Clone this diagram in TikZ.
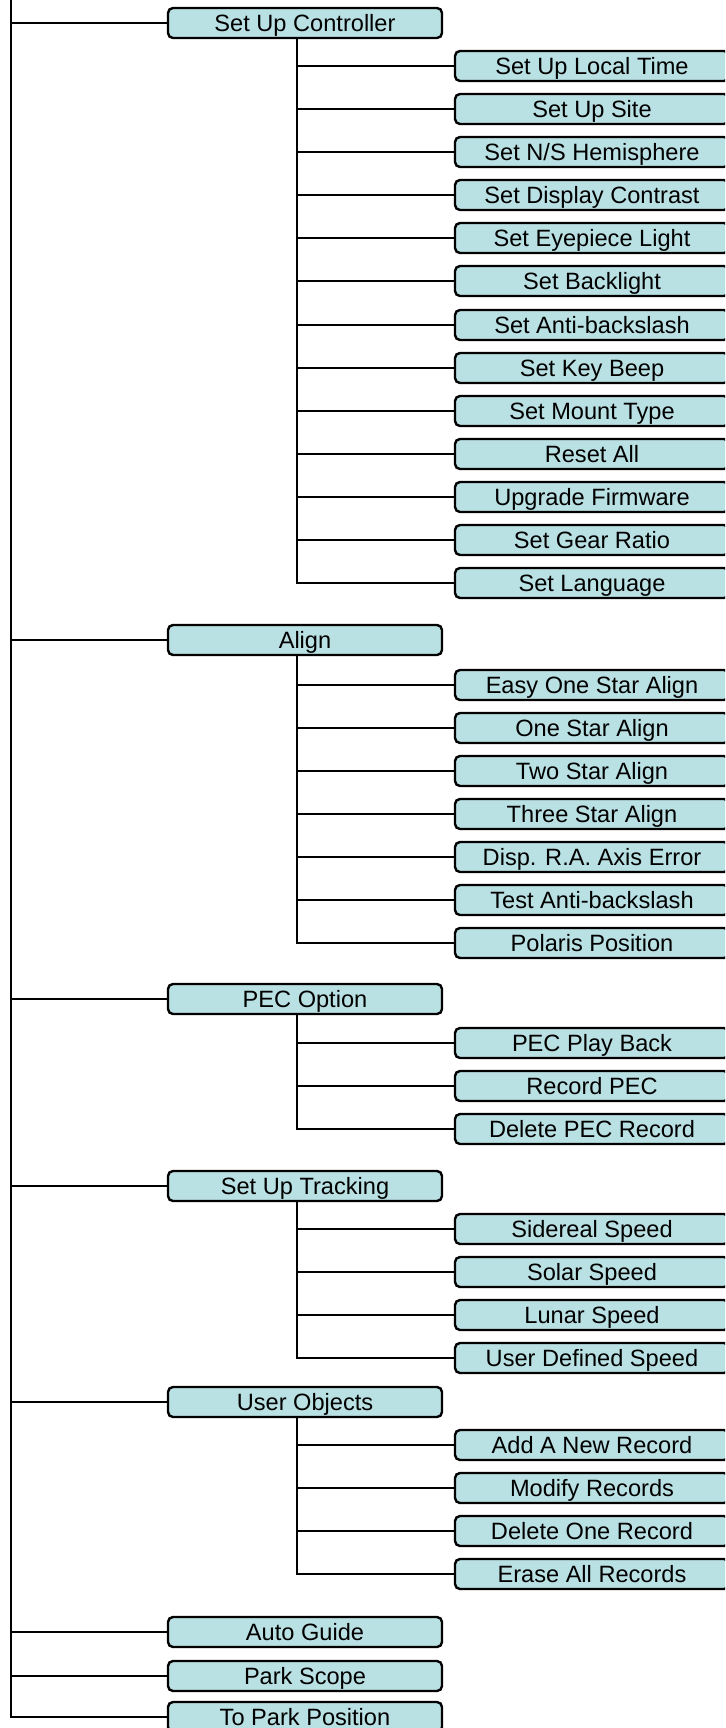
\documentclass[tikz,border=0pt]{standalone}
\usepackage{fontspec}
\setmainfont{Liberation Sans}
\definecolor{menublue}{RGB}{185,224,227}
\tikzset{
  entry/.style={draw, rounded corners=2.5pt, fill=menublue, line width=1.2pt,
    minimum width=137pt, minimum height=15pt, inner sep=0pt, outer sep=0pt,
    text height=8.5pt, text depth=0pt,
    font=\fontsize{11.8}{14}\selectfont},
  link/.style={line width=1.1pt}
}
\begin{document}
\begin{tikzpicture}[x=0.5pt, y=-0.5pt]
  \useasboundingbox (0,0) rectangle (725,1728);
  \clip (0,0) rectangle (725,1728);
  % main menu
  \node [entry] (1) at (305,23) {Set Up Controller};
  \node [entry] (2) at (305,640) {Align};
  \node [entry] (3) at (305,999) {PEC Option};
  \node [entry] (4) at (305,1186) {Set Up Tracking};
  \node [entry] (5) at (305,1402) {User Objects};
  \node [entry] (6) at (305,1632) {Auto Guide};
  \node [entry] (7) at (305,1676) {Park Scope};
  \node [entry] (8) at (305,1717) {To Park Position};
  % set up controller
  \node [entry] (1-1) at (592,66) {Set Up Local Time};
  \node [entry] (1-2) at (592,109) {Set Up Site};
  \node [entry] (1-3) at (592,152) {Set N/S Hemisphere};
  \node [entry] (1-4) at (592,195) {Set Display Contrast};
  \node [entry] (1-5) at (592,238) {Set Eyepiece Light};
  \node [entry] (1-6) at (592,281) {Set Backlight};
  \node [entry] (1-7) at (592,325) {Set Anti-backslash};
  \node [entry] (1-8) at (592,368) {Set Key Beep};
  \node [entry] (1-9) at (592,411) {Set Mount Type};
  \node [entry] (1-10) at (592,454) {Reset All};
  \node [entry] (1-11) at (592,497) {Upgrade Firmware};
  \node [entry] (1-12) at (592,540) {Set Gear Ratio};
  \node [entry] (1-13) at (592,583) {Set Language};
  % align
  \node [entry] (2-1) at (592,685) {Easy One Star Align};
  \node [entry] (2-2) at (592,728) {One Star Align};
  \node [entry] (2-3) at (592,771) {Two Star Align};
  \node [entry] (2-4) at (592,814) {Three Star Align};
  \node [entry] (2-5) at (592,857) {Disp. R.A. Axis Error};
  \node [entry] (2-6) at (592,900) {Test Anti-backslash};
  \node [entry] (2-7) at (592,943) {Polaris Position};
  % pec
  \node [entry] (3-1) at (592,1043) {PEC Play Back};
  \node [entry] (3-2) at (592,1086) {Record PEC};
  \node [entry] (3-3) at (592,1129) {Delete PEC Record};
  % tracking
  \node [entry] (4-1) at (592,1229) {Sidereal Speed};
  \node [entry] (4-2) at (592,1272) {Solar Speed};
  \node [entry] (4-3) at (592,1315) {Lunar Speed};
  \node [entry] (4-4) at (592,1358) {User Defined Speed};
  % user objects
  \node [entry] (5-1) at (592,1445) {Add A New Record};
  \node [entry] (5-2) at (592,1488) {Modify Records};
  \node [entry] (5-3) at (592,1531) {Delete One Record};
  \node [entry] (5-4) at (592,1574) {Erase All Records};
  % spines
  \coordinate (top) at (11,0);
  \coordinate (b1) at (297,38);
  \coordinate (b2) at (297,655);
  \coordinate (b3) at (297,1014);
  \coordinate (b4) at (297,1201);
  \coordinate (b5) at (297,1417);
  \draw [link] (top) |- (1);
  \draw [link] (top) |- (2);
  \draw [link] (top) |- (3);
  \draw [link] (top) |- (4);
  \draw [link] (top) |- (5);
  \draw [link] (top) |- (6);
  \draw [link] (top) |- (7);
  \draw [link] (top) |- (8);
  \draw [link] (b1) |- (1-1);
  \draw [link] (b1) |- (1-2);
  \draw [link] (b1) |- (1-3);
  \draw [link] (b1) |- (1-4);
  \draw [link] (b1) |- (1-5);
  \draw [link] (b1) |- (1-6);
  \draw [link] (b1) |- (1-7);
  \draw [link] (b1) |- (1-8);
  \draw [link] (b1) |- (1-9);
  \draw [link] (b1) |- (1-10);
  \draw [link] (b1) |- (1-11);
  \draw [link] (b1) |- (1-12);
  \draw [link] (b1) |- (1-13);
  \draw [link] (b2) |- (2-1);
  \draw [link] (b2) |- (2-2);
  \draw [link] (b2) |- (2-3);
  \draw [link] (b2) |- (2-4);
  \draw [link] (b2) |- (2-5);
  \draw [link] (b2) |- (2-6);
  \draw [link] (b2) |- (2-7);
  \draw [link] (b3) |- (3-1);
  \draw [link] (b3) |- (3-2);
  \draw [link] (b3) |- (3-3);
  \draw [link] (b4) |- (4-1);
  \draw [link] (b4) |- (4-2);
  \draw [link] (b4) |- (4-3);
  \draw [link] (b4) |- (4-4);
  \draw [link] (b5) |- (5-1);
  \draw [link] (b5) |- (5-2);
  \draw [link] (b5) |- (5-3);
  \draw [link] (b5) |- (5-4);
\end{tikzpicture}
\end{document}
